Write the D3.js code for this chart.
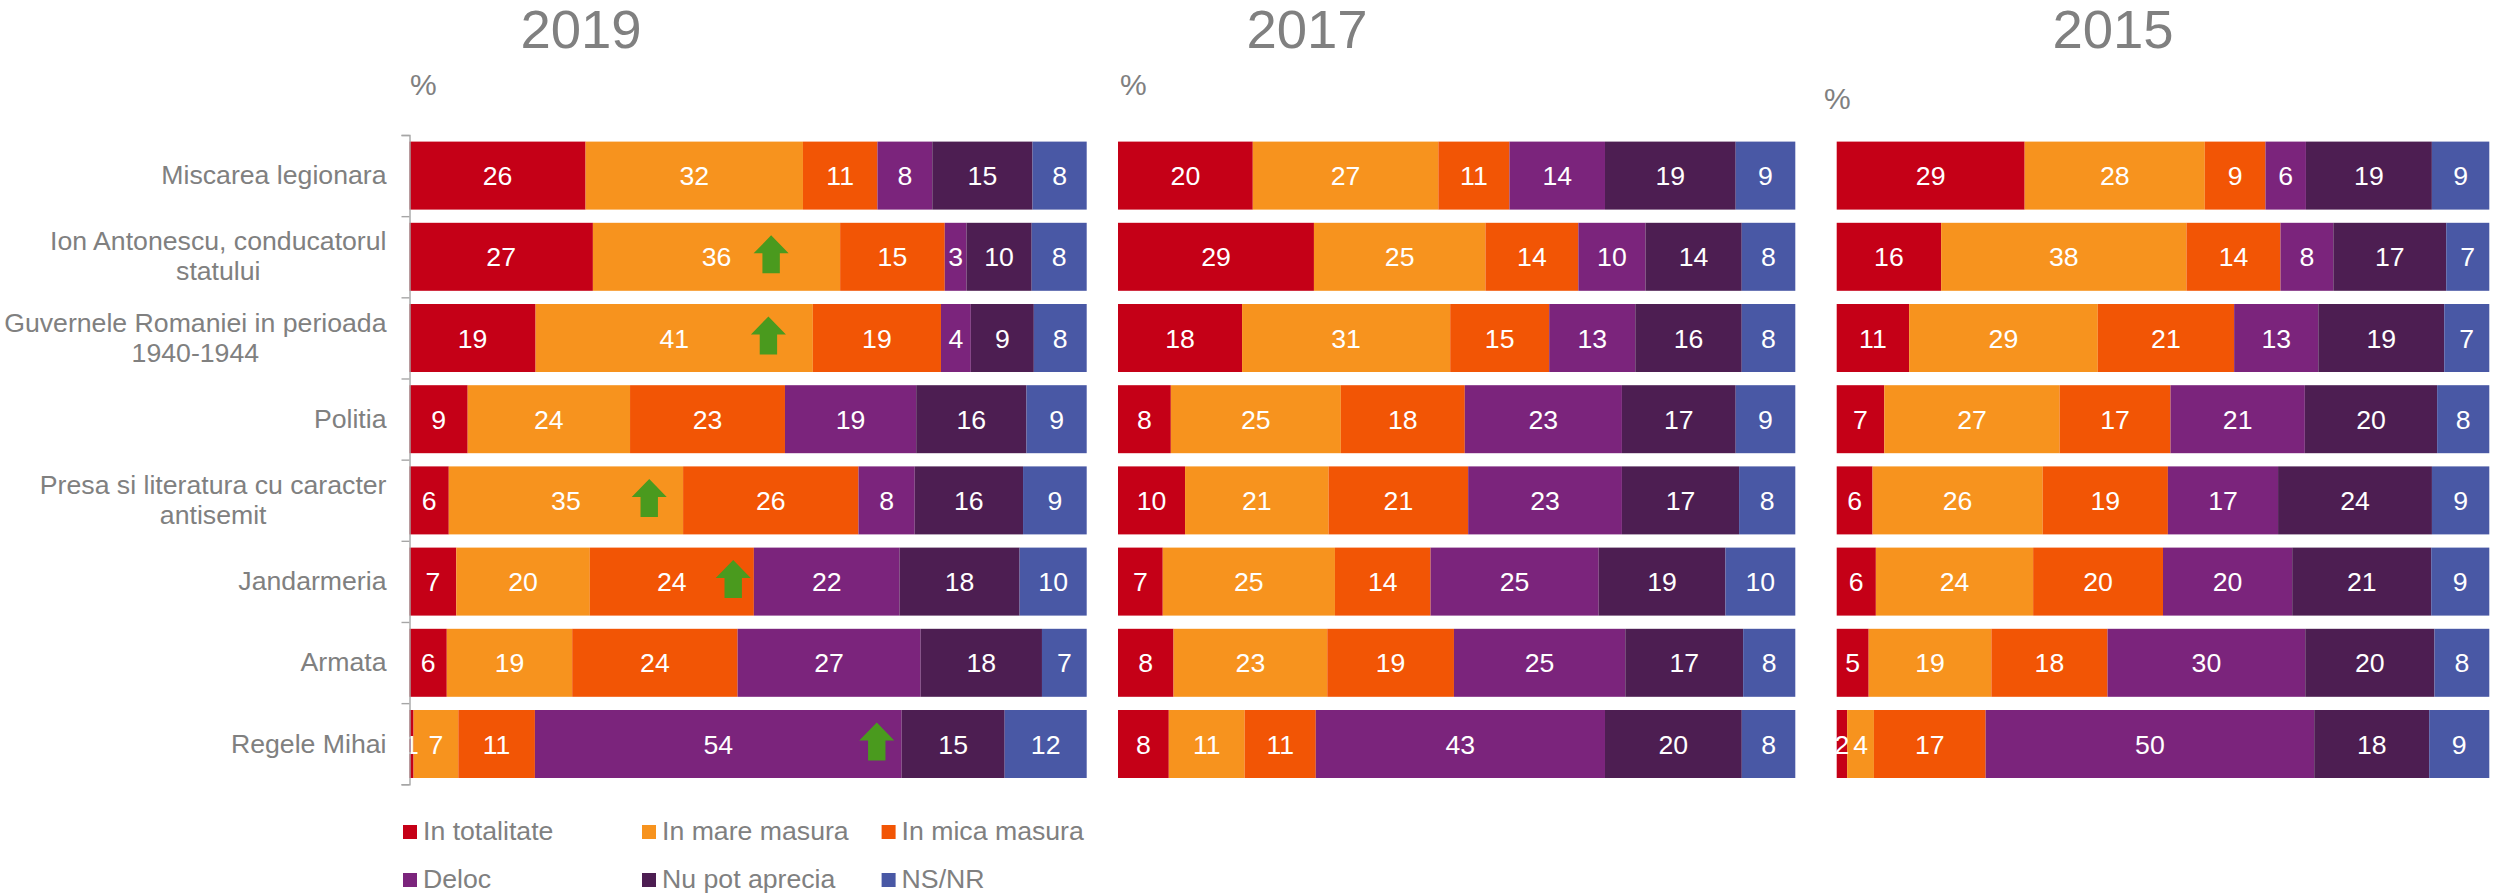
<!DOCTYPE html>
<html><head><meta charset="utf-8">
<script src="https://cdn.jsdelivr.net/npm/d3@7/dist/d3.min.js"></script>
<style>html,body{margin:0;padding:0;background:#fff}svg{display:block}text{font-family:"Liberation Sans",Arial,sans-serif}</style>
</head><body><svg id="c" width="2503" height="895"></svg>
<script>
const categories = [
  ["Miscarea legionara"],
  ["Ion Antonescu, conducatorul","statului"],
  ["Guvernele Romaniei in perioada","1940-1944"],
  ["Politia"],
  ["Presa si literatura cu caracter","antisemit"],
  ["Jandarmeria"],
  ["Armata"],
  ["Regele Mihai"]
];
const series = ["In totalitate","In mare masura","In mica masura","Deloc","Nu pot aprecia","NS/NR"];
const colors = ["#c50017","#f7931e","#f25505","#7b247c","#4d1e52","#4958a5"];
const years = ["2019","2017","2015"];
const values2019 = [
  [26,32.1,11,8.1,14.8,8],
  [27,36.4,15.4,3.2,9.6,8.1],
  [18.6,40.9,18.9,4.4,9.3,7.8],
  [8.6,24,22.9,19.4,16.3,8.9],
  [5.8,34.6,25.9,8.3,16,9.4],
  [6.9,19.7,24.2,21.5,17.7,9.9],
  [5.5,18.5,24.4,27,17.9,6.6],
  [0.6,6.6,11.3,54.1,15.2,12.1]
];
const values2017 = [
  [19.9,27.4,10.5,14.1,19.3,8.8],
  [28.9,25.3,13.7,9.9,14.2,7.9],
  [18.3,30.7,14.6,12.7,15.7,7.9],
  [7.8,25.1,18.3,23.2,16.8,8.8],
  [9.9,21.2,20.6,22.7,17.3,8.3],
  [6.6,25.4,14.1,24.8,18.7,10.3],
  [8.2,22.7,18.7,25.3,17.4,7.7],
  [7.5,11.2,10.5,42.7,20.2,7.9]
];
const values2015 = [
  [28.8,27.6,9.3,6.2,19.3,8.8],
  [16,37.6,14.4,8.1,17.3,6.6],
  [11.1,28.9,20.9,12.9,19.3,6.9],
  [7.3,26.9,17,20.6,20.3,8],
  [5.5,26.1,19.2,16.9,23.6,8.8],
  [6,24.1,19.9,19.8,21.3,8.9],
  [4.9,18.8,17.8,30.3,19.8,8.4],
  [1.6,4.1,17.1,50.3,17.6,9.2]
];
const arrowRows = [1,2,4,5,7];
const arrowShare = [0.534,0.530,0.354,0.478,0.690];

const panelValues = [values2019,values2017,values2015];
const panelX = [[409.5,1086.7],[1118,1795.3],[1836.7,2489.3]];
const titleX = [581,1307,2113];
const pctPos = [[410,95],[1120,95],[1824,109]];
const GRAY = "#808080";
const svg = d3.select("#c");
const idx = d3.range(categories.length);
const yTop = d3.scaleLinear([0,8],[141.6,141.6+81.2*8]);
const BAR_H = 68;
const stack = d3.stack().keys(d3.range(6)).value((d,k)=>d[k]).offset(d3.stackOffsetExpand);

panelValues.forEach((vals,p)=>{
  const g = svg.append("g");
  const x = d3.scaleLinear([0,1],panelX[p]);
  const layers = stack(vals);
  layers.forEach((lay,k)=>{
    g.append("g").selectAll("rect").data(lay).join("rect")
      .attr("x",d=>x(d[0])).attr("width",d=>x(d[1])-x(d[0]))
      .attr("y",(d,i)=>yTop(i)).attr("height",BAR_H)
      .attr("fill",colors[k]);
  });
  layers.forEach((lay,k)=>{
    g.append("g").selectAll("text").data(lay).join("text")
      .attr("x",d=>(x(d[0])+x(d[1]))/2)
      .attr("y",(d,i)=>yTop(i)+BAR_H/2+9.5)
      .attr("text-anchor","middle").attr("font-size",26.67).attr("fill","#fff")
      .text((d,i)=>Math.round(vals[i][k]));
  });
  svg.append("text").attr("x",titleX[p]).attr("y",48).attr("text-anchor","middle")
    .attr("font-size",54.5).attr("fill",GRAY).text(years[p]);
  svg.append("text").attr("x",pctPos[p][0]).attr("y",pctPos[p][1])
    .attr("font-size",30).attr("fill",GRAY).text("%");
});

// arrows (first panel)
const x0 = d3.scaleLinear([0,1],panelX[0]);
const arrowPath = "M0,-19L17.5,-1H8.7V19H-8.7V-1H-17.5Z";
svg.append("g").selectAll("path").data(arrowRows).join("path")
  .attr("d",arrowPath).attr("fill","#4a9a1e")
  .attr("transform",(r,i)=>`translate(${x0(arrowShare[i])},${yTop(r)+BAR_H/2-2.5})`);

// axis of first panel
const axisScale = d3.scaleLinear([0,8],[135,784.3]);
const ax = svg.append("g").attr("transform","translate(409.5,0)")
  .call(d3.axisLeft(axisScale).ticks(8).tickSize(8).tickSizeOuter(8).tickFormat(""));
ax.selectAll("path,line").attr("stroke","#a6a6a6").attr("stroke-width",1.4);

// category labels
const cat = svg.append("g").selectAll("text").data(idx).join("text")
  .attr("text-anchor","middle").attr("font-size",26.67).attr("fill",GRAY);
cat.each(function(i){
  const lines = categories[i];
  const t = d3.select(this);
  const cy = yTop(i)+BAR_H/2;
  t.selectAll("tspan").data(lines).join("tspan")
    .attr("y",(l,j)=>cy+8.5-(lines.length-1)*15+j*30).text(l=>l);
  const w = d3.max(Array.from(this.childNodes),n=>n.getComputedTextLength());
  t.selectAll("tspan").attr("x",386.5-w/2);
});

// legend
const legX = d3.scaleOrdinal([0,1,2],[403,642,881.6]);
const legY = d3.scaleOrdinal([0,1],[825,873]);
const leg = svg.append("g").selectAll("g").data(series).join("g")
  .attr("transform",(s,i)=>`translate(${legX(i%3)},${legY(Math.floor(i/3))})`);
leg.append("rect").attr("width",14).attr("height",14).attr("fill",(s,i)=>colors[i]);
leg.append("text").attr("x",20).attr("y",15).attr("font-size",26.67).attr("fill",GRAY).text(s=>s);
</script></body></html>
